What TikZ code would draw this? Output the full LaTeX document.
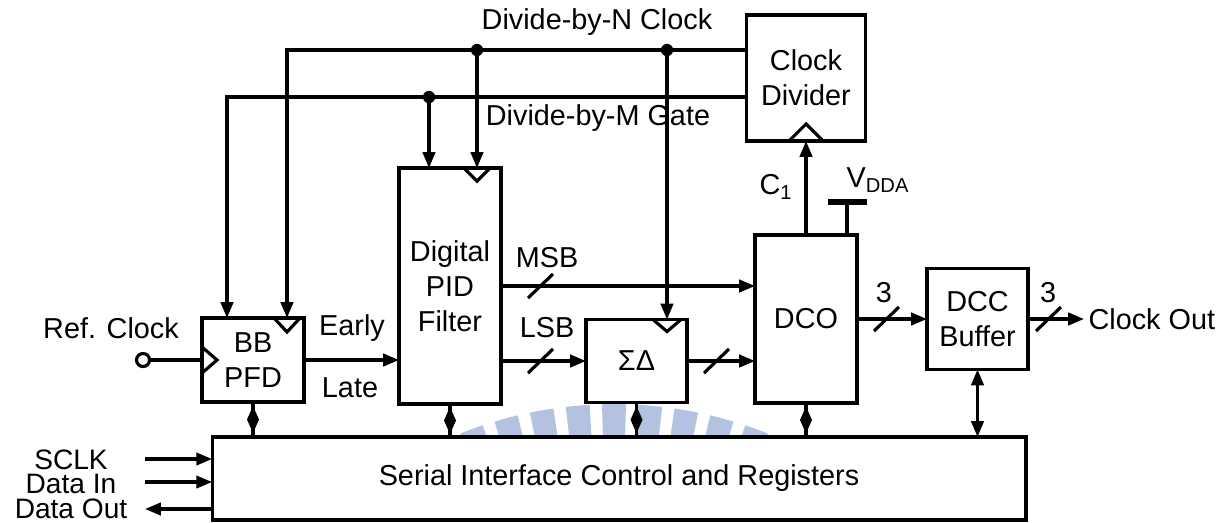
\documentclass[tikz,border=0pt]{standalone}
\usepackage{fontspec}
\setmainfont{Liberation Sans}
\usetikzlibrary{arrows.meta,decorations.markings,calc}
\definecolor{wm}{RGB}{178,194,224}
\begin{document}
\begin{tikzpicture}[x=0.02cm,y=-0.02cm, line width=1.8pt,
  lbl/.style={font=\fontsize{16.4}{20}\selectfont, inner sep=0pt, align=center},
  blk/.style={draw, fill=white, outer sep=0pt, inner sep=0pt, align=center, font=\fontsize{16.4}{20}\selectfont},
  arr/.style={-{Triangle[length=9pt,width=7pt]}},
  darr/.style={{Triangle[length=9pt,width=7pt]}-{Triangle[length=9pt,width=7pt]}},
  dia/.style={postaction=decorate, decoration={markings, mark=at position 0.5 with {\fill (-0.27cm,0) -- (0,0.12cm) -- (0.27cm,0) -- (0,-0.12cm) -- cycle;}}},
  dot/.style={circle, fill, inner sep=0pt, minimum size=7pt}
]
\useasboundingbox (0,0) rectangle (1227,522);

% watermark
\begin{scope}[shift={(614,821)}]
\foreach \a in {70,75,...,110}{
  \fill[wm] (\a-1.65:7.6cm) -- (\a-1.65:8.34cm) arc[start angle=\a-1.65, end angle=\a+1.65, radius=8.34cm] -- (\a+1.65:7.6cm) arc[start angle=\a+1.65, end angle=\a-1.65, radius=7.6cm] -- cycle;
}
\end{scope}

% blocks
\node[blk, minimum width=2.04cm, minimum height=1.68cm] (pfd) at (253,360) {BB\\PFD};
\node[blk, minimum width=2.04cm, minimum height=4.72cm] (pid) at (450,286) {Digital\\PID\\Filter};
\node[blk, minimum width=2.02cm, minimum height=1.66cm] (sd) at (636.5,361) {ΣΔ};
\node[blk, minimum width=2.04cm, minimum height=3.36cm] (dco) at (806,319) {DCO};
\node[blk, minimum width=2.02cm, minimum height=2.02cm] (dcc) at (977.5,319) {DCC\\Buffer};
\node[blk, minimum width=2.38cm, minimum height=2.52cm] (div) at (806,78) {Clock\\Divider};
\node[blk, minimum width=16.28cm, minimum height=1.66cm] (ser) at (619,478.5) {Serial Interface Control and Registers};

% clock triangles
\draw (pfd.west) ++(0,-13) -- ++(15,13) -- ++(-15,13);
\coordinate (nL) at (287,50);
\coordinate (mL) at (227,97);
\coordinate (dM) at (429,97);
\coordinate (dN1) at (477,50);
\coordinate (dN2) at (667,50);
\draw (nL |- pfd.north) ++(-13,0) -- ++(13,14) -- ++(13,-14);
\draw (dN1 |- pid.north) ++(-13,0) -- ++(13,13) -- ++(13,-13);
\draw (dN2 |- sd.north) ++(-14,0) -- ++(14,12) -- ++(14,-12);
\draw (div.south) ++(-17,0) -- ++(17,-17) -- ++(17,17);

% top buses
\draw[arr] (div.west |- nL) -- (nL) -- (nL |- pfd.north);
\draw[arr] (div.west |- mL) -- (mL) -- (mL |- pfd.north);
\draw[arr] (dM) -- (dM |- pid.north);
\draw[arr] (dN1) -- (dN1 |- pid.north);
\draw[arr] (dN2) -- (dN2 |- sd.north);
\node[dot] (d1) at (dM) {};
\node[dot] (d2) at (dN1) {};
\node[dot] (d3) at (dN2) {};
\node[lbl] (tN) at (597,22) {Divide-by-N Clock};
\node[lbl] (tM) at (598,118) {Divide-by-M Gate};

% ref clock
\node[circle, draw, fill=white, inner sep=0pt, minimum size=0.26cm] (rc) at (143,360) {};
\node[lbl] (trc) at (111,328) {Ref. Clock};
\draw (rc) -- (pfd.west);

% pfd -> pid
\draw[arr] (pfd.east) -- (pfd.east -| pid.west);
\node[lbl] (tE) at (352,328) {Early};
\node[lbl] (tL) at (350,388) {Late};

% pid -> dco / sd
\draw[arr] (pid.east) -- (pid.east -| dco.west);
\draw[arr] (pid.east |- sd.west) -- (sd.west);
\draw[arr] (sd.east) -- (sd.east -| dco.west);
\node[lbl] (tMSB) at (547,258) {MSB};
\node[lbl] (tLSB) at (547,328) {LSB};
\draw (540,286) ++(-12,12) -- ++(25,-24);
\draw (540,361) ++(-12,12) -- ++(25,-24);
\draw (716,361) ++(-12,12) -- ++(25,-24);

% dco -> dcc -> out
\draw[arr] (dco.east) -- (dcc.west);
\coordinate (cout) at (1084,319);
\draw[arr] (dcc.east) -- (cout);
\draw (886,319) ++(-12,12) -- ++(25,-24);
\draw (1048,319) ++(-12,12) -- ++(25,-24);
\node[lbl] (t3a) at (884,293) {3};
\node[lbl] (t3b) at (1048,293) {3};
\node[lbl, anchor=west] (tco) at (1087,319) {Clock Out};

% C1 and VDDA
\draw[arr] (dco.north) -- (div.south);
\node[lbl] (tC1) at (776,187) {C\textsubscript{1}};
\coordinate (vdd) at (847,202);
\draw (vdd) -- (vdd |- dco.north);
\draw[line width=3pt] (vdd) ++(-19,0) -- ++(39,0);
\node[lbl] (tV) at (878,180) {V\textsubscript{DDA}};

% serial connections
\draw[dia] (pfd.south) -- (pfd.south |- ser.north);
\draw[dia] (pid.south) -- (pid.south |- ser.north);
\draw[dia] (sd.south) -- (sd.south |- ser.north);
\draw[dia] (dco.south) -- (dco.south |- ser.north);
\draw[darr] (dcc.south) -- (dcc.south |- ser.north);

% serial port
\coordinate (sclk) at (145,459);
\coordinate (din) at (145,482);
\coordinate (dout) at (145,509);
\draw[arr] (sclk) -- (sclk -| ser.west);
\draw[arr] (din) -- (din -| ser.west);
\draw[arr] (dout -| ser.west) -- (dout);
\node[lbl, font=\fontsize{16}{14}\selectfont] (tSP) at (71,484) {SCLK\\Data In\\Data Out};
\end{tikzpicture}
\end{document}
